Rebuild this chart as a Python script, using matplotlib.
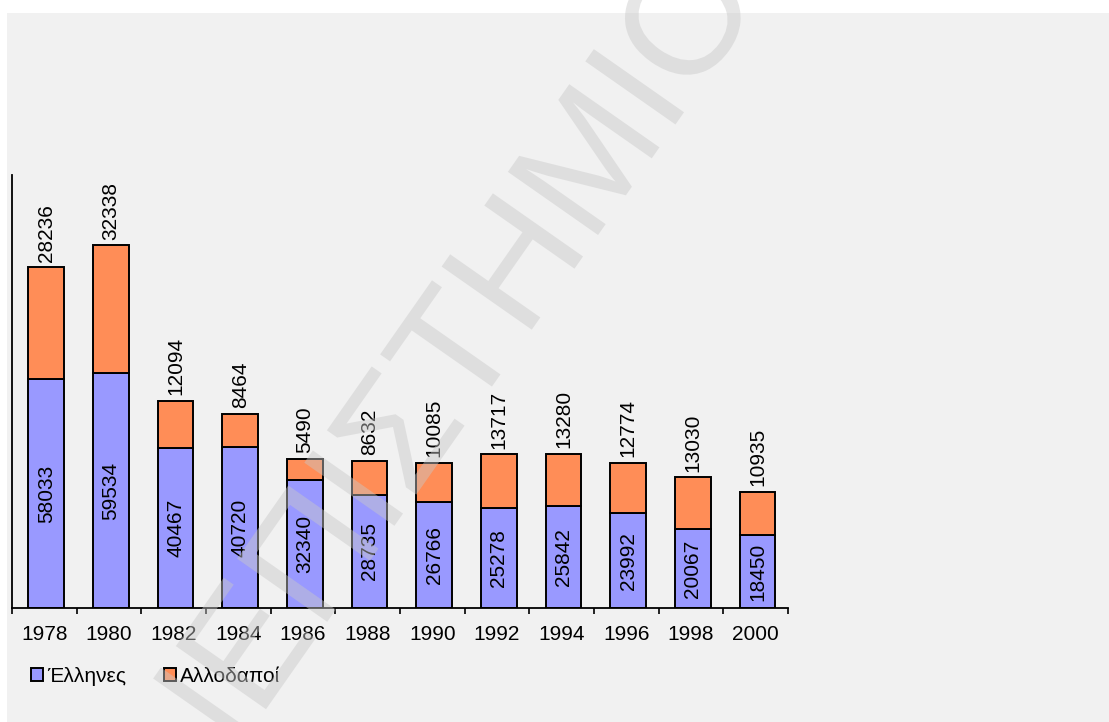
import numpy as np
import matplotlib
matplotlib.use('Agg')
import matplotlib.pyplot as plt
from matplotlib.patches import Rectangle, PathPatch, Patch
from matplotlib.textpath import TextPath
from matplotlib.font_manager import FontProperties
from matplotlib.transforms import Affine2D, IdentityTransform

plt.rcParams['font.family'] = ['Liberation Sans', 'DejaVu Sans']

# Data
years = ['1978', '1980', '1982', '1984', '1986', '1988',
         '1990', '1992', '1994', '1996', '1998', '2000']
greeks = [58033, 59534, 40467, 40720, 32340, 28735,
          26766, 25278, 25842, 23992, 20067, 18450]
foreigners = [28236, 32338, 12094, 8464, 5490, 8632,
              10085, 13717, 13280, 12774, 13030, 10935]

blue = '#9999ff'
orange = '#ff8d57'
fs = 15

W, H = 1109, 722
fig = plt.figure(figsize=(W / 100, H / 100), dpi=100, facecolor='white')

# grey panel behind everything
fig.add_artist(Rectangle((7 / W, 0), 1, (H - 13) / H, transform=fig.transFigure,
                         facecolor='#f1f1f1', edgecolor='none', zorder=-10))

ax = fig.add_axes([12 / W, (H - 608) / H, (788 - 12) / W, (608 - 175) / H])
ax.set_facecolor('none')

x = np.arange(len(years))
ax.bar(x + 0.03, greeks, width=0.55, color=blue, edgecolor='black', linewidth=1.4)
ax.bar(x + 0.03, foreigners, width=0.55, bottom=greeks, color=orange,
       edgecolor='black', linewidth=1.4)

for xi, g, f in zip(x + 0.03, greeks, foreigners):
    ax.text(xi, g / 2, str(g), rotation=90, ha='center', va='center', fontsize=fs)
    ax.annotate(str(f), (xi, g + f), xytext=(0, 4), textcoords='offset points',
                rotation=90, ha='center', va='bottom', fontsize=fs)

ax.set_xlim(-0.5, len(years) - 0.5)
ax.set_ylim(0, 109700)
ax.set_xticks(x)
ax.set_xticklabels(years, fontsize=fs)
ax.set_xticks(np.arange(len(years) + 1) - 0.5, minor=True)
ax.tick_params(axis='x', which='major', length=0, pad=12)
ax.tick_params(axis='x', which='minor', length=4, width=1.2, direction='out')
ax.set_yticks([])
for s in ['top', 'right']:
    ax.spines[s].set_visible(False)
for s in ['left', 'bottom']:
    ax.spines[s].set_linewidth(1.3)

handles = [Patch(facecolor=blue, edgecolor='black', linewidth=1.4, label='Έλληνες'),
           Patch(facecolor=orange, edgecolor='black', linewidth=1.4, label='Αλλοδαποί')]
fig.legend(handles=handles, loc='center left', bbox_to_anchor=(31 / W, (H - 676) / H),
           ncol=2, frameon=False, fontsize=fs, handlelength=0.58, handleheight=0.58,
           handletextpad=0.2, columnspacing=1.8, borderpad=0, borderaxespad=0)

# diagonal watermark
prop = FontProperties(family='Liberation Sans')
word = 'ΠΑΝΕΠΙΣΤΗΜΙΟ'
size = 160
tp = TextPath((0, 0), word, size=size, prop=prop)
head = TextPath((0, 0), word[:-1], size=size, prop=prop)
x_i = head.get_extents().x1 - 7
tr = Affine2D().translate(-x_i, 0).rotate_deg(55).translate(680, H - 118)
wm = PathPatch(tr.transform_path(tp), transform=IdentityTransform(),
               facecolor='#c8c8c8', edgecolor='none', alpha=0.45, zorder=20)
fig.add_artist(wm)

fig.savefig('out.png', dpi=100, facecolor='white')
